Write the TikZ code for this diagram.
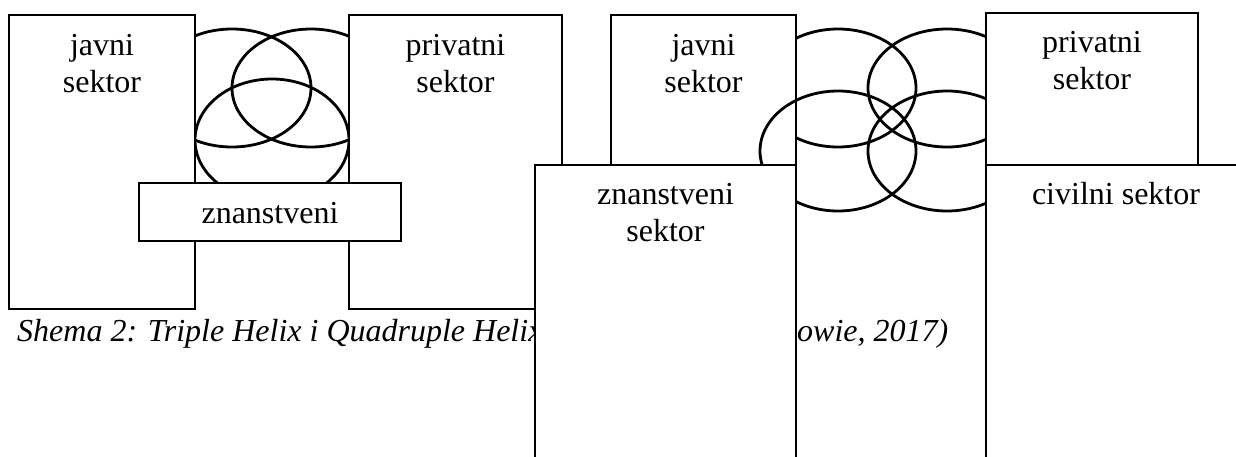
\documentclass[tikz,border=0pt]{standalone}
\usepackage{fontspec}
\setmainfont{Liberation Serif}
\usetikzlibrary{positioning}

\begin{document}
\begin{tikzpicture}[x=1pt,y=-1pt,
    sector/.style={draw,fill=white,line width=1.6pt,inner sep=0pt,outer sep=0pt},
    helix/.style={line width=2.8pt},
    lbl/.style={font=\fontsize{32}{37}\selectfont,align=center,anchor=base,inner sep=0pt},
    captxt/.style={font=\fontsize{32}{37}\selectfont\itshape,anchor=base west,inner sep=0pt}]
    \useasboundingbox (0,0) rectangle (1236,456);
    \clip (0,0) rectangle (1236,456);

    % triple helix
    \draw[helix] (232,88) ellipse [x radius=79pt, y radius=59pt];
    \draw[helix] (311,88) ellipse [x radius=79pt, y radius=59pt];
    \draw[helix] (272,140) ellipse [x radius=77pt, y radius=61pt];

    \node[sector,minimum width=186pt,minimum height=294pt](javniA) at (102,162){};
    \node[sector,minimum width=213pt,minimum height=294pt](privatniA) at (455.5,162){};
    \node[sector,minimum width=262pt,minimum height=58pt](znanstA) at (270,212){};

    % base = last line
    \node[lbl](javniAt) at (102,92){javni\\sektor};
    \node[lbl](privatniAt) at (455.5,92){privatni\\sektor};
    \node[lbl](znanstAt) at (270,223){znanstveni};

    \node[captxt](shema) at (17,341){Shema 2: Triple Helix i Quadruple Helix};
    \node[captxt](izvor) at (797,341){owie, 2017)};

    % quadruple helix
    \draw[helix] (838,88) ellipse [x radius=78pt, y radius=59pt];
    \draw[helix] (947,88) ellipse [x radius=79pt, y radius=59pt];
    \draw[helix] (947,151) ellipse [x radius=79pt, y radius=60pt];

    \node[sector,minimum width=185pt,minimum height=150pt](javniB) at (703.5,90){};
    \draw[helix] (838,151) ellipse [x radius=78pt, y radius=60pt];

    \node[sector,minimum width=261pt,minimum height=315pt](znanstB) at (665.5,322.5){};
    \node[sector,minimum width=212pt,minimum height=152pt](privatniB) at (1092,89){};
    \node[sector,minimum width=260pt,minimum height=315pt](civilB) at (1116,322.5){};

    \node[lbl](javniBt) at (703.5,92){javni\\sektor};
    \node[lbl](privatniBt) at (1092,89){privatni\\sektor};
    \node[lbl](znanstBt) at (665.5,241){znanstveni\\sektor};
    \node[lbl](civilBt) at (1116,204){civilni sektor};
\end{tikzpicture}
\end{document}
